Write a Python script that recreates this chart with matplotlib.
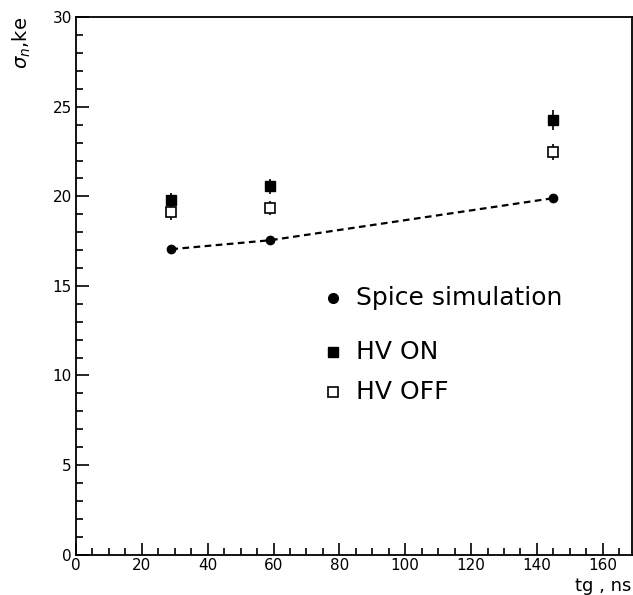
import matplotlib.pyplot as plt
from matplotlib.ticker import MultipleLocator

# tg (ns) and noise (ke)
tg = [29, 59, 145]
spice = [17.05, 17.55, 19.9]
hv_on = [19.8, 20.55, 24.25]
hv_on_err = [0.4, 0.4, 0.55]
hv_off = [19.1, 19.35, 22.5]
hv_off_err = [0.4, 0.4, 0.45]

plt.rcParams['font.family'] = ['DejaVu Sans']

fig = plt.figure(figsize=(6.33, 5.95), dpi=100)
ax = fig.add_axes([0.12, 0.068, 0.879, 0.903])

ax.plot(tg, spice, 'k--', lw=1.6, dashes=(3, 2))
ax.plot(tg, spice, 'ko', ms=6)
ax.errorbar(tg, hv_on, yerr=hv_on_err, fmt='ks', ms=7, ecolor='k', elinewidth=1.2, capsize=0)
ax.errorbar(tg, hv_off, yerr=hv_off_err, fmt='s', mfc='white', mec='k', mew=1.2,
            ms=7, ecolor='k', elinewidth=1.2, capsize=0)

# legend drawn as text in data space
ax.plot([78], [14.3], 'ko', ms=7)
ax.text(85, 14.3, 'Spice simulation', fontsize=18, va='center')
ax.plot([78], [11.3], 'ks', ms=7)
ax.text(85, 11.3, 'HV ON', fontsize=18, va='center')
ax.plot([78], [9.1], 's', mfc='white', mec='k', mew=1.2, ms=7)
ax.text(85, 9.1, 'HV OFF', fontsize=18, va='center')

ax.set_xlim(0, 169)
ax.set_ylim(0, 30)
ax.xaxis.set_major_locator(MultipleLocator(20))
ax.xaxis.set_minor_locator(MultipleLocator(5))
ax.yaxis.set_major_locator(MultipleLocator(5))
ax.yaxis.set_minor_locator(MultipleLocator(1))
ax.tick_params(which='both', direction='in', top=False, right=False, labelsize=11, width=1.2)
ax.tick_params(which='major', length=9)
ax.tick_params(axis='x', which='major', pad=2.5)
ax.tick_params(axis='y', which='major', pad=3)
ax.tick_params(which='minor', length=5)
for s in ax.spines.values():
    s.set_linewidth(1.3)

fig.text(0.998, 0.0, 'tg , ns', fontsize=13, ha='right', va='bottom')
ax.set_ylabel(r'$\sigma_n$,ke', fontsize=14, loc='top', labelpad=14)

fig.savefig('out.png', dpi=100)
